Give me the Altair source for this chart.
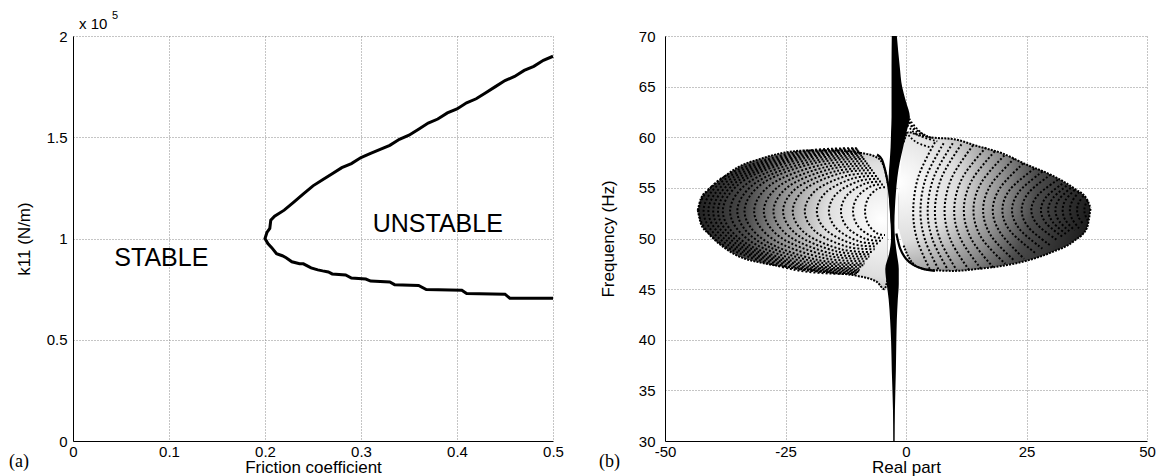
import altair as alt
import pandas as pd

# ---------------- panel (a): stability boundary ----------------
FRIC_UPPER = [0.500, 0.49, 0.48, 0.47, 0.46, 0.45, 0.44, 0.43, 0.42, 0.41, 0.40, 0.39, 0.38, 0.37,
              0.36, 0.35, 0.34, 0.33, 0.32, 0.31, 0.30, 0.29, 0.28, 0.27, 0.26, 0.25, 0.24, 0.23,
              0.22, 0.21, 0.206, 0.205, 0.202, 0.200]
K_UPPER = [1.90, 1.88, 1.85, 1.83, 1.80, 1.78, 1.75, 1.72, 1.69, 1.67, 1.64, 1.62, 1.59, 1.57,
           1.54, 1.51, 1.49, 1.46, 1.44, 1.42, 1.40, 1.37, 1.35, 1.32, 1.29, 1.26, 1.22, 1.18,
           1.14, 1.11, 1.09, 1.05, 1.03, 1.00]
FRIC_LOWER = [0.203, 0.207, 0.212, 0.218, 0.222, 0.228, 0.236, 0.240, 0.248, 0.255, 0.260, 0.266,
              0.270, 0.284, 0.290, 0.305, 0.310, 0.330, 0.335, 0.360, 0.368, 0.405, 0.410, 0.450,
              0.455, 0.500]
K_LOWER = [0.975, 0.955, 0.925, 0.915, 0.905, 0.885, 0.875, 0.875, 0.855, 0.845, 0.840, 0.835,
           0.825, 0.820, 0.805, 0.800, 0.790, 0.785, 0.772, 0.768, 0.748, 0.744, 0.728, 0.725,
           0.705, 0.705]
REGION_TEXT = ["STABLE", "UNSTABLE"]
REGION_X = [0.092, 0.380]
REGION_Y = [0.905, 1.07]

# ---------------- panel (b): root locus ----------------
LEFT_ARCS_X = [
    [-4.35, -6.0, -7.83, -8.5, -7.83, -6.0, -4.35],
    [-4.78, -7.25, -10.0, -11.0, -10.0, -7.25, -4.78],
    [-5.2, -8.5, -12.16, -13.5, -12.16, -8.5, -5.2],
    [-5.63, -9.75, -14.33, -16.0, -14.33, -9.75, -5.63],
    [-6.05, -11.0, -16.49, -18.5, -16.49, -11.0, -6.05],
    [-6.48, -12.25, -18.66, -21.0, -18.66, -12.25, -6.48],
    [-6.9, -13.5, -20.82, -23.5, -20.82, -13.5, -6.9],
    [-7.24, -14.5, -22.55, -25.5, -22.55, -14.5, -7.24],
    [-7.58, -15.5, -24.28, -27.5, -24.28, -15.5, -7.58],
    [-7.92, -16.5, -26.02, -29.5, -26.02, -16.5, -7.92],
    [-8.26, -17.5, -27.75, -31.5, -27.75, -17.5, -8.26],
    [-8.6, -18.5, -29.48, -33.5, -29.48, -18.5, -8.6],
    [-8.86, -19.25, -30.78, -35.0, -30.78, -19.25, -8.86],
    [-9.11, -20.0, -32.08, -36.5, -32.08, -20.0, -9.11],
    [-9.37, -20.75, -33.38, -38.0, -33.38, -20.75, -9.37],
    [-9.54, -21.25, -34.24, -39.0, -34.24, -21.25, -9.54],
    [-9.71, -21.75, -35.11, -40.0, -35.11, -21.75, -9.71],
    [-9.88, -22.25, -35.98, -41.0, -35.98, -22.25, -9.88],
    [-10.05, -22.75, -36.84, -42.0, -36.84, -22.75, -10.05],
    [-10.2, -23.25, -37.71, -43.0, -37.71, -23.25, -10.2],
]
LEFT_ARCS_Y = [
    [55.06, 54.89, 54.0, 52.7, 51.4, 50.51, 50.34],
    [55.34, 55.16, 54.15, 52.7, 51.25, 50.24, 50.06],
    [55.62, 55.42, 54.31, 52.7, 51.09, 49.98, 49.78],
    [55.9, 55.68, 54.46, 52.7, 50.94, 49.72, 49.5],
    [56.18, 55.94, 54.61, 52.7, 50.79, 49.46, 49.22],
    [56.46, 56.2, 54.77, 52.7, 50.63, 49.2, 48.94],
    [56.74, 56.46, 54.92, 52.7, 50.48, 48.94, 48.66],
    [56.96, 56.66, 55.04, 52.7, 50.36, 48.74, 48.44],
    [57.19, 56.88, 55.17, 52.7, 50.23, 48.52, 48.21],
    [57.41, 57.08, 55.29, 52.7, 50.11, 48.32, 47.99],
    [57.64, 57.29, 55.42, 52.7, 49.98, 48.11, 47.76],
    [57.86, 57.5, 55.54, 52.7, 49.86, 47.9, 47.54],
    [58.03, 57.66, 55.63, 52.7, 49.77, 47.74, 47.37],
    [58.2, 57.82, 55.73, 52.7, 49.67, 47.58, 47.2],
    [58.36, 57.96, 55.81, 52.7, 49.59, 47.44, 47.04],
    [58.48, 58.08, 55.88, 52.7, 49.52, 47.32, 46.92],
    [58.59, 58.18, 55.94, 52.7, 49.46, 47.22, 46.81],
    [58.7, 58.28, 56.0, 52.7, 49.4, 47.12, 46.7],
    [58.81, 58.38, 56.06, 52.7, 49.34, 47.02, 46.59],
    [58.92, 58.48, 56.12, 52.7, 49.28, 46.92, 46.48],
]
RIGHT_ARCS_X = [
    [6.0, 2.6, 1.5, 2.3, 4.9], [7.8, 4.2, 3.0, 3.96, 6.8], [9.7, 5.8, 4.5, 5.54, 8.7],
    [11.5, 7.4, 6.0, 7.1, 10.5], [13.9, 9.5, 8.0, 9.3, 13.0], [16.6, 11.65, 10.0, 11.4, 15.6],
    [18.4, 13.6, 12.0, 13.6, 18.4], [20.4, 15.6, 14.0, 15.6, 20.6], [22.5, 17.6, 16.0, 17.6, 22.5],
    [24.3, 19.6, 18.0, 19.6, 24.5], [26.6, 21.6, 20.0, 21.6, 27.0], [28.3, 23.6, 22.0, 23.6, 28.3],
    [30.0, 25.5, 24.0, 25.5, 30.0], [31.5, 27.4, 26.0, 27.4, 31.5], [32.4, 29.1, 28.0, 29.1, 32.4],
    [33.3, 30.5, 29.5, 30.5, 33.3], [34.2, 31.8, 31.0, 31.8, 34.2], [35.0, 33.1, 32.5, 33.1, 35.0],
    [35.9, 34.5, 34.0, 34.5, 35.9], [36.8, 35.8, 35.5, 35.8, 36.8], [37.7, 37.2, 37.0, 37.2, 37.7],
]
RIGHT_ARCS_Y = [
    [59.5, 56.15, 52.8, 49.9, 47.0], [59.4, 56.1, 52.8, 49.85, 46.9], [59.4, 56.1, 52.8, 49.85, 46.9],
    [59.3, 56.05, 52.8, 49.85, 46.9], [59.2, 56.0, 52.8, 49.8, 46.95], [59.0, 55.95, 52.8, 49.9, 47.0],
    [58.6, 55.7, 52.8, 49.9, 47.0], [58.2, 55.5, 52.8, 50.1, 47.5], [57.9, 55.3, 52.8, 50.3, 47.8],
    [57.4, 55.05, 52.8, 50.55, 48.0], [56.9, 54.85, 52.8, 50.75, 48.5], [56.6, 54.7, 52.8, 50.9, 49.0],
    [56.3, 54.55, 52.8, 51.05, 49.3], [55.8, 54.3, 52.8, 51.3, 49.8], [55.4, 54.1, 52.8, 51.5, 50.2],
    [55.2, 54.0, 52.8, 51.6, 50.4], [55.0, 53.9, 52.8, 51.7, 50.6], [54.8, 53.8, 52.8, 51.8, 50.8],
    [54.6, 53.7, 52.8, 51.9, 51.0], [54.2, 53.5, 52.8, 52.1, 51.4], [53.8, 53.3, 52.8, 52.3, 51.8],
]
FAN_X = [[-2.4, -1.0, 1.0, 3.5], [-2.2, -0.5, 1.5, 4.5], [-2.0, 0.0, 2.0, 5.5],
         [-1.8, 0.3, 2.5, 6.5], [-1.6, 0.2, 2.2, 5.0]]
FAN_Y = [[66.5, 63.8, 61.6, 60.3], [65.0, 62.8, 61.0, 60.1], [63.8, 62.0, 60.6, 59.9],
         [62.8, 61.2, 60.2, 59.6], [61.8, 60.4, 59.5, 59.0]]

LEFT_LOBE_X = [-43.2, -42.5, -41.0, -38.0, -35.0, -30.0, -25.0, -20.0, -15.0, -10.0, -6.0, -4.5, -3.8]
LEFT_LOBE_TOP = [52.8, 54.0, 54.8, 56.0, 57.0, 57.9, 58.5, 58.7, 58.7, 58.5, 58.0, 57.0, 55.5]
LEFT_LOBE_BOT = [52.8, 51.4, 50.5, 49.2, 48.3, 47.6, 47.2, 46.9, 46.6, 46.3, 45.7, 45.0, 46.0]
RIGHT_LOBE_X = [-1.5, -0.5, 0.5, 2.0, 5.0, 10.0, 15.0, 20.0, 25.0, 30.0, 35.0, 37.5, 38.3]
RIGHT_LOBE_TOP = [54.0, 59.5, 60.5, 60.3, 60.0, 59.8, 59.1, 58.4, 57.3, 56.3, 54.9, 53.9, 53.0]
RIGHT_LOBE_BOT = [51.0, 49.3, 48.2, 47.3, 46.9, 46.8, 47.0, 47.3, 47.8, 48.6, 49.8, 51.0, 53.0]

SPINE_Y = [30, 33, 37, 40, 42, 44, 45.5, 47, 48.5, 50, 51.5, 53, 54.5, 56, 57.5, 59, 60.5, 62,
           63.5, 65, 67, 70]
SPINE_XL = [-2.65, -2.7, -2.95, -3.1, -3.3, -3.6, -4.0, -4.3, -3.5, -3.1, -3.2, -3.4, -3.6, -3.6,
            -3.4, -3.2, -3.1, -3.0, -3.0, -3.0, -3.0, -2.95]
SPINE_XR = [-2.35, -2.3, -2.1, -2.0, -1.9, -1.7, -1.5, -1.5, -1.9, -2.3, -2.4, -2.3, -2.1, -1.8,
            -1.3, -0.6, 0.1, 0.8, 0.0, -0.8, -1.3, -1.9]
SBEND_X = [-6.0, -5.0, -4.2, -3.6, -3.2, -3.0, -2.6, -2.2]
SBEND_Y = [58.3, 57.8, 56.5, 55.0, 53.5, 52.0, 50.0, 48.0]
RLOBE_EDGE_X = [-2.0, -1.2, 0.0, 1.5, 3.5, 6.0]
RLOBE_EDGE_Y = [50.5, 49.0, 48.0, 47.4, 47.0, 46.8]

FONT = "Liberation Sans"

# ---------------- build tables ----------------
curve = pd.DataFrame({
    "f": FRIC_UPPER + FRIC_LOWER,
    "k": K_UPPER + K_LOWER,
})
curve["i"] = range(len(curve))
regions = pd.DataFrame({"f": REGION_X, "k": REGION_Y, "t": REGION_TEXT})


def lines_table(xs, ys, prefix):
    rows = []
    for j, (lx, ly) in enumerate(zip(xs, ys)):
        for i, (a, b) in enumerate(zip(lx, ly)):
            rows.append({"x": a, "y": b, "g": f"{prefix}{j}", "i": i})
    return pd.DataFrame(rows)


arcs = pd.concat([lines_table(LEFT_ARCS_X, LEFT_ARCS_Y, "L"),
                  lines_table(RIGHT_ARCS_X, RIGHT_ARCS_Y, "R")])
fans = lines_table(FAN_X, FAN_Y, "F")
outlines = pd.concat([
    lines_table([LEFT_LOBE_X], [LEFT_LOBE_TOP], "LT"),
    lines_table([LEFT_LOBE_X], [LEFT_LOBE_BOT], "LB"),
    lines_table([RIGHT_LOBE_X[1:]], [RIGHT_LOBE_TOP[1:]], "RT"),
    lines_table([RIGHT_LOBE_X[1:]], [RIGHT_LOBE_BOT[1:]], "RB"),
])
edges = pd.concat([lines_table([SBEND_X], [SBEND_Y], "S"),
                   lines_table([RLOBE_EDGE_X], [RLOBE_EDGE_Y], "E")])
left_lobe = pd.DataFrame({"x": LEFT_LOBE_X, "y": LEFT_LOBE_TOP, "y2": LEFT_LOBE_BOT})
right_lobe = pd.DataFrame({"x": RIGHT_LOBE_X, "y": RIGHT_LOBE_TOP, "y2": RIGHT_LOBE_BOT})
spine = pd.DataFrame({"y": SPINE_Y, "x": SPINE_XL, "x2": SPINE_XR})

W, H = 480, 405
LABEL_EXPR = "'' + datum.value"

# ---------------- panel (a) ----------------
XA = alt.X("f:Q", scale=alt.Scale(domain=[0, 0.5], nice=False),
           axis=alt.Axis(values=[0, 0.1, 0.2, 0.3, 0.4, 0.5], labelExpr=LABEL_EXPR,
                         title="Friction coefficient"))
YA = alt.Y("k:Q", scale=alt.Scale(domain=[0, 2], nice=False),
           axis=alt.Axis(values=[0, 0.5, 1, 1.5, 2], labelExpr=LABEL_EXPR, title="k11 (N/m)",
                         titlePadding=13))

a_line = alt.Chart(curve).mark_line(color="black", strokeWidth=3, strokeJoin="miter").encode(
    x=XA, y=YA, order="i:Q")
a_text = alt.Chart(regions).mark_text(font=FONT, fontSize=25, color="black").encode(
    x=XA, y=YA, text="t:N")
lab_df = pd.DataFrame({"t": ["(a)"]})
a_tag = alt.Chart(lab_df).mark_text(font="Liberation Serif", fontSize=18, align="left",
                                    color="black").encode(
    x=alt.value(-64), y=alt.value(426), text="t:N")
exp_df = pd.DataFrame({"t": ["x 10"]})
a_exp = alt.Chart(exp_df).mark_text(font=FONT, fontSize=15, align="left", color="black").encode(
    x=alt.value(6), y=alt.value(-12), text="t:N")
exp5_df = pd.DataFrame({"t": ["5"]})
a_exp5 = alt.Chart(exp5_df).mark_text(font=FONT, fontSize=11, align="left", color="black").encode(
    x=alt.value(39), y=alt.value(-20), text="t:N")

panel_a = alt.layer(a_line, a_text, a_tag, a_exp, a_exp5).properties(width=W, height=H)

# ---------------- panel (b) ----------------
XB = alt.X("x:Q", scale=alt.Scale(domain=[-50, 50], nice=False),
           axis=alt.Axis(values=[-50, -25, 0, 25, 50], labelExpr=LABEL_EXPR, title="Real part"))
YB = alt.Y("y:Q", scale=alt.Scale(domain=[30, 70], nice=False),
           axis=alt.Axis(values=[30, 35, 40, 45, 50, 55, 60, 65, 70], labelExpr=LABEL_EXPR,
                         title="Frequency (Hz)", titlePadding=21, labelPadding=10))

STOPS = [alt.GradientStop(offset=0, color="#ffffff"),
         alt.GradientStop(offset=0.3, color="#dedede"),
         alt.GradientStop(offset=0.55, color="#8c8c8c"),
         alt.GradientStop(offset=0.72, color="#4a4a4a"),
         alt.GradientStop(offset=1, color="#1e1e1e")]
grad_left = alt.Gradient(gradient="radial", x1=0.97, y1=0.5, x2=0.97, y2=0.5, r1=0, r2=1,
                         stops=STOPS)
grad_right = alt.Gradient(gradient="radial", x1=0.0, y1=0.4, x2=0.0, y2=0.4, r1=0, r2=1,
                          stops=STOPS)

b_lobe_l = alt.Chart(left_lobe).mark_area(color=grad_left, interpolate="monotone").encode(
    x=XB, y=YB, y2="y2:Q")
b_lobe_r = alt.Chart(right_lobe).mark_area(color=grad_right, interpolate="monotone").encode(
    x=XB, y=YB, y2="y2:Q")
b_arcs = alt.Chart(arcs).mark_line(color="black", strokeWidth=2, strokeDash=[2, 2],
                                   interpolate="cardinal").encode(
    x=XB, y=YB, detail="g:N", order="i:Q")
b_fans = alt.Chart(fans).mark_line(color="black", strokeWidth=1.8, strokeDash=[1.8, 2.0],
                                   interpolate="cardinal").encode(
    x=XB, y=YB, detail="g:N", order="i:Q")
b_out = alt.Chart(outlines).mark_line(color="black", strokeWidth=2, strokeDash=[2, 1.2],
                                      interpolate="monotone").encode(
    x=XB, y=YB, detail="g:N", order="i:Q")
b_edges = alt.Chart(edges).mark_line(color="black", strokeWidth=2.2,
                                     interpolate="cardinal").encode(
    x=XB, y=YB, detail="g:N", order="i:Q")
b_spine = alt.Chart(spine).mark_area(color="black", orient="horizontal",
                                     interpolate="monotone").encode(
    y=YB, x=XB, x2="x2:Q")
b_tag = alt.Chart(pd.DataFrame({"t": ["(b)"]})).mark_text(
    font="Liberation Serif", fontSize=18, align="left", color="black").encode(
    x=alt.value(-66), y=alt.value(426), text="t:N")

panel_b = alt.layer(b_lobe_l, b_lobe_r, b_arcs, b_fans, b_out, b_edges, b_spine, b_tag).properties(
    width=W + 2, height=H)

chart = alt.hconcat(panel_a, panel_b, spacing=112, bounds="flush").properties(
    padding={"left": 9, "top": 10, "right": 5, "bottom": 2},
).configure_view(stroke=None).configure_axis(
    labelFont=FONT, titleFont=FONT, labelFontSize=15, titleFontSize=17,
    labelColor="black", titleColor="black", titleFontWeight="normal",
    domainColor="black", domainWidth=1, ticks=False,
    grid=True, gridColor="#8a8a8a", gridDash=[1, 2], gridWidth=1,
    labelFlush=False, labelOverlap=False,
).configure_axisX(titlePadding=0, labelPadding=3).configure_axisY(labelPadding=6)

chart.save("out.html", embed_options={"renderer": "svg", "actions": False})
